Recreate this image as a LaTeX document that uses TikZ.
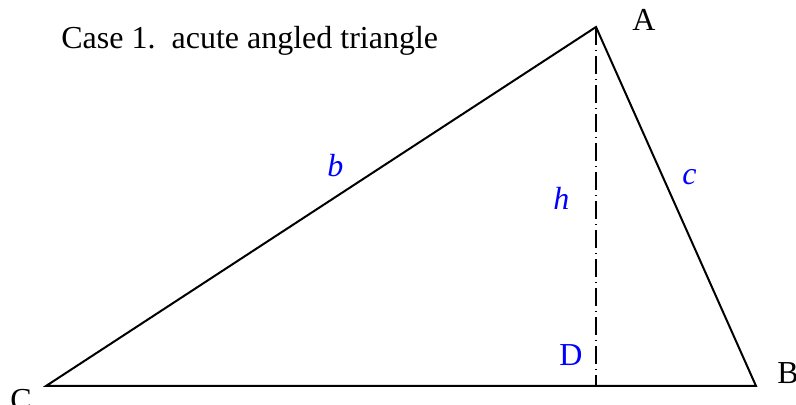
\documentclass[tikz,border=0pt]{standalone}
\usepackage{fontspec}
\setmainfont{Liberation Serif}
\begin{document}
\begin{tikzpicture}[
  x=0.5pt, y=0.5pt,
  lbl/.style={inner sep=0pt, anchor=base west, font=\fontsize{16}{19}\selectfont},
  side/.style={lbl, text=blue, font=\fontsize{16}{19}\selectfont\itshape},
  edge/.style={line width=1pt, draw=black, line join=miter},
  alt/.style={line width=0.8pt, draw=black, dash pattern=on 9pt off 2.5pt on 0.5pt off 2.5pt}
]
\useasboundingbox (0,0) rectangle (796,405);

\coordinate (A) at (596,378);
\coordinate (B) at (756,19);
\coordinate (C) at (46,19);
\coordinate (D) at (596,19);

\draw[edge] (C) -- (B) -- (A) -- cycle;
\draw[alt] (A) -- (D);

\node[lbl] (title) at (61,356) {Case 1.\ \ acute angled triangle};
\node[lbl] (lA) at (632,374) {A};
\node[lbl] (lB) at (777,21) {B};
\node[lbl] (lC) at (10,-6) {C};
\node[lbl, text=blue] (lD) at (559,39) {D};
\node[side] (lb) at (327,228) {b};
\node[side] (lh) at (553,195) {h};
\node[side] (lc) at (682,220) {c};
\end{tikzpicture}
\end{document}
